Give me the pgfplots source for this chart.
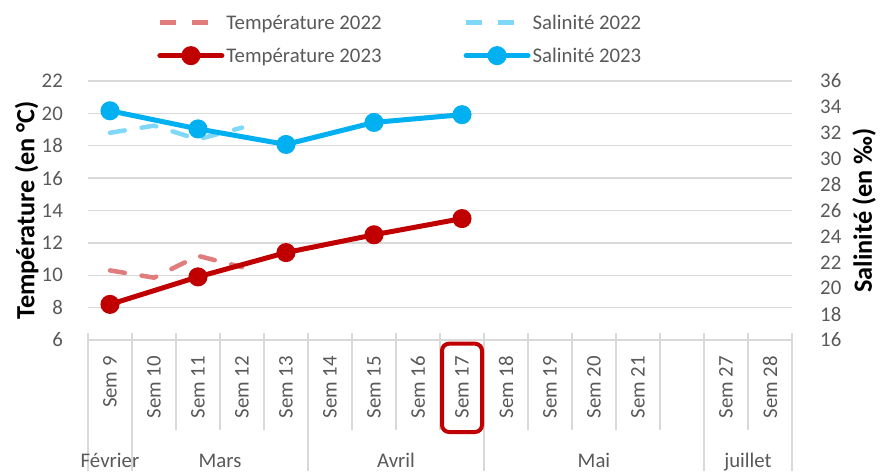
\documentclass[border=0pt]{standalone}
\usepackage{fontspec}
\setmainfont{Carlito}
\usepackage{pgfplots}
\pgfplotsset{compat=1.18}
\definecolor{tred}{HTML}{C00000}
\definecolor{tred22}{HTML}{E07C7C}
\definecolor{sblue}{HTML}{00B0F0}
\definecolor{sblue22}{HTML}{80D8F8}
\definecolor{gridc}{HTML}{D9D9D9}
\definecolor{txt}{HTML}{595959}
\newcommand\fs{\fontsize{20.8}{25}\selectfont}
\newcommand\fl{\bfseries\fontsize{26.3}{30}\selectfont}
\begin{document}
\begin{tikzpicture}[font=\fs]
\path[use as bounding box] (0,0) rectangle (888pt,471pt);
\pgfplotsset{
  common/.style={
    at={(88pt,131pt)}, anchor=south west,
    scale only axis, width=704pt, height=259pt,
    xmin=-0.5, xmax=15.5,
    major tick length=0pt,
    /pgf/number format/assume math mode=true,
    tick label style={font=\fs, text=txt},
    clip=false,
  },
}
\begin{axis}[common,
  ymin=6, ymax=22, ytick={6,8,...,22},
  xtick={0,...,15},
  xticklabels={Sem 9,Sem 10,Sem 11,Sem 12,Sem 13,Sem 14,Sem 15,Sem 16,Sem 17,Sem 18,Sem 19,Sem 20,Sem 21,,Sem 27,Sem 28},
  xticklabel style={rotate=90, anchor=east, inner sep=0pt},
  xticklabel shift=16pt,
  yticklabel style={inner sep=0pt},
  yticklabel shift=25pt,
  axis lines*=left,
  x axis line style={gridc, line width=1.5pt},
  y axis line style={draw=none},
  ymajorgrids, grid style={gridc, line width=1.5pt},
  ylabel={Température (en °C)},
  ylabel style={font=\fl, text=black, at={(axis description cs:-0.087,0.5)}, anchor=center},
  legend columns=2,
  legend cell align=left,
  legend style={draw=none, fill=none, at={(axis description cs:0.094,1.272)}, anchor=north west,
    font=\fs, text=txt, row sep=13pt,
    /tikz/every even column/.append style={column sep=80pt}},
  legend image code/.code={\draw[mark repeat=2, mark phase=2, #1] plot coordinates {(0pt,0pt) (31pt,0pt) (62pt,0pt)};},
]
\addlegendimage{tred22, line width=4.5pt, dash pattern=on 16pt off 16pt}
\addlegendentry{Température 2022}
\addlegendimage{sblue22, line width=4.5pt, dash pattern=on 16pt off 16pt}
\addlegendentry{Salinité 2022}
\addlegendimage{tred, line width=5pt, line cap=round, mark=*, mark size=7pt, mark options={solid, fill=tred, draw=none}}
\addlegendentry{Température 2023}
\addlegendimage{sblue, line width=5pt, line cap=round, mark=*, mark size=7pt, mark options={solid, fill=sblue, draw=none}}
\addlegendentry{Salinité 2023}

% separators
\pgfplotsinvokeforeach{1.5,2.5,3.5,5.5,6.5,7.5,9.5,10.5,11.5,12.5,14.5}{
  \draw[gridc, line width=1.5pt] ([yshift=7pt]axis cs:#1,6) -- ([yshift=-90pt]axis cs:#1,6);
}
\pgfplotsinvokeforeach{-0.5,0.5,4.5,8.5,13.5,15.5}{
  \draw[gridc, line width=1.5pt] ([yshift=7pt]axis cs:#1,6) -- ([yshift=-131pt]axis cs:#1,6);
}
% month labels
\node[text=txt, anchor=base] at ([yshift=-127pt]axis cs:0,6) {Février};
\node[text=txt, anchor=base] at ([yshift=-127pt]axis cs:2.5,6) {Mars};
\node[text=txt, anchor=base] at ([yshift=-127pt]axis cs:6.5,6) {Avril};
\node[text=txt, anchor=base] at ([yshift=-127pt]axis cs:11,6) {Mai};
\node[text=txt, anchor=base] at ([yshift=-127pt]axis cs:14.5,6) {juillet};
% highlight box
\draw[tred, line width=4pt, rounded corners=7pt] ([xshift=2pt,yshift=-3.7pt]axis cs:7.5,6) rectangle ([xshift=-2pt,yshift=-92pt]axis cs:8.5,6);

\addplot[forget plot, tred22, line width=4.5pt, line cap=round, dash pattern=on 15pt off 17pt] coordinates {(0,10.3) (1,9.85) (2,11.2) (3,10.5)};
\addplot[forget plot, tred, line width=5pt, mark=*, mark size=7pt, mark options={solid, fill=tred, draw=none}] coordinates {(0,8.2) (2,9.9) (4,11.4) (6,12.5) (8,13.5)};
\end{axis}

\begin{axis}[common,
  ymin=16, ymax=36, ytick={16,18,...,36},
  axis x line=none,
  axis y line*=right,
  y axis line style={draw=none},
  yticklabel style={inner sep=0pt, anchor=west},
  yticklabel shift=28pt,
  ylabel={Salinité (en ‰)},
  ylabel style={font=\fl, text=black, at={(axis description cs:1.1023,0.5)}, anchor=center},
]
\addplot[sblue22, line width=4.5pt, line cap=round, dash pattern=on 15pt off 17pt] coordinates {(0,32.0) (1,32.55) (2,31.5) (3,32.4)};
\addplot[sblue, line width=5pt, mark=*, mark size=7pt, mark options={solid, fill=sblue, draw=none}] coordinates {(0,33.7) (2,32.3) (4,31.1) (6,32.8) (8,33.4)};
\end{axis}
\end{tikzpicture}
\end{document}
